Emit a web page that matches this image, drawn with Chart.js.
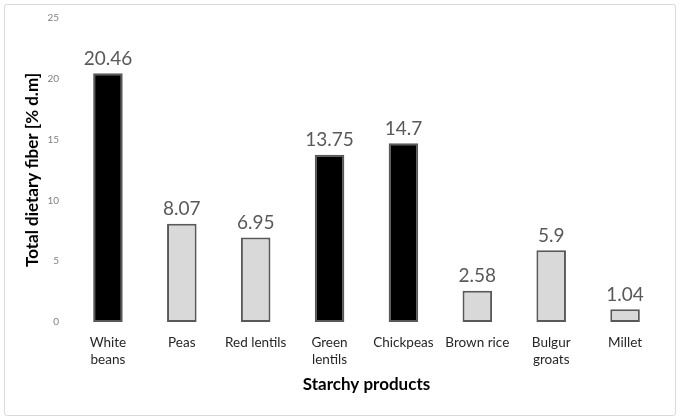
<!DOCTYPE html>
<html>
<head>
<meta charset="utf-8">
<script src="https://cdn.jsdelivr.net/npm/chart.js@4"></script>
<style>
  html, body { margin: 0; padding: 0; background: #fff; }
  #wrap { position: relative; width: 680px; height: 420px; }
  #frame { position: absolute; left: 4px; top: 4px; right: 4px; bottom: 4px;
           border: 1px solid #d9d9d9; border-radius: 3px; pointer-events: none; }
  canvas { display: block; }
</style>
</head>
<body>
<div id="wrap">
  <canvas id="fiberChart" width="680" height="420"></canvas>
  <div id="frame"></div>
</div>
<script>
// Categories and values
const products = [['White', 'beans'], 'Peas', 'Red lentils', ['Green', 'lentils'],
                  'Chickpeas', 'Brown rice', ['Bulgur', 'groats'], 'Millet'];
const fiber = [20.46, 8.07, 6.95, 13.75, 14.7, 2.58, 5.9, 1.04];
const legume = [true, false, false, true, true, false, false, false];
const yTicks = [0, 5, 10, 15, 20, 25];

const FONT = 'Lato, "Open Sans", sans-serif';

// draws the value above each bar
const valueLabels = {
    id: 'valueLabels',
    afterDatasetsDraw(chart) {
        const ctx = chart.ctx;
        const meta = chart.getDatasetMeta(0);
        ctx.save();
        ctx.font = '19px ' + FONT;
        ctx.fillStyle = '#595959';
        ctx.textAlign = 'center';
        ctx.textBaseline = 'bottom';
        meta.data.forEach((bar, i) => {
            ctx.fillText(String(fiber[i]), bar.x, bar.y - 5);
        });
        ctx.restore();
    }
};

const ctx = document.getElementById('fiberChart').getContext('2d');
new Chart(ctx, {
    type: 'bar',
    data: {
        labels: products,
        datasets: [{
            data: fiber,
            backgroundColor: legume.map(l => l ? '#000000' : '#d9d9d9'),
            borderColor: '#595959',
            borderWidth: 2,
            borderSkipped: false,
            barPercentage: 0.8,
            categoryPercentage: 0.5,
        }],
    },
    options: {
        responsive: false,
        animation: false,
        layout: { padding: { left: 12, top: 18, right: 18, bottom: 10 } },
        plugins: {
            legend: { display: false },
            tooltip: { enabled: false },
        },
        scales: {
            x: {
                grid: { display: false, drawTicks: false },
                border: { display: false },
                ticks: {
                    color: '#262626',
                    font: { family: FONT, size: 13.5 },
                    padding: 13,
                    maxRotation: 0,
                    autoSkip: false,
                },
                title: {
                    display: true,
                    text: 'Starchy products',
                    color: '#000',
                    font: { family: FONT, size: 17, weight: 'bold' },
                    padding: { top: 8, bottom: 15 },
                },
                afterFit(scale) { scale.height = 88; },
            },
            y: {
                min: 0,
                max: 25,
                afterBuildTicks(scale) { scale.ticks = yTicks.map(v => ({ value: v })); },
                grid: { display: false, drawTicks: false },
                border: { display: false },
                ticks: {
                    color: '#808080',
                    font: { family: FONT, size: 10 },
                    padding: 12,
                },
                title: {
                    display: true,
                    text: 'Total dietary fiber [% d.m]',
                    color: '#000',
                    font: { family: FONT, size: 17, weight: 'bold' },
                    padding: { top: 10, bottom: 8 },
                },
                afterFit(scale) { scale.width = 59; },
            },
        },
    },
    plugins: [valueLabels],
});
</script>
</body>
</html>
